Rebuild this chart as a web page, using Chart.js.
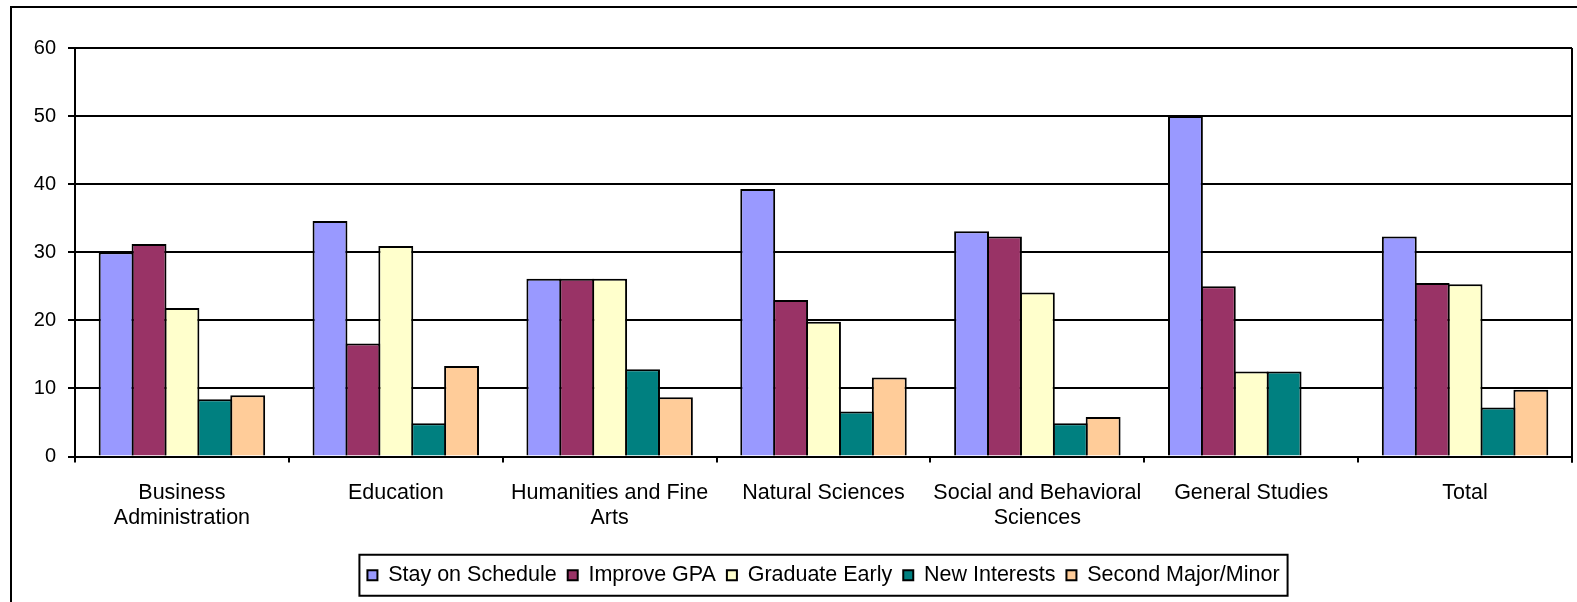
<!DOCTYPE html>
<html>
<head>
<meta charset="utf-8">
<script src="https://cdn.jsdelivr.net/npm/chart.js@4.4.0/dist/chart.umd.min.js"></script>
<style>
  body { margin: 0; background: #fff; }
  canvas { display: block; }
</style>
</head>
<body>
<canvas id="bargraph" width="1577" height="602"></canvas>
<script>
// categories and series
var colleges = [
    ['Business', 'Administration'],
    'Education',
    ['Humanities and Fine', 'Arts'],
    'Natural Sciences',
    ['Social and Behavioral', 'Sciences'],
    'General Studies',
    'Total'
];
var stayOnSchedule = [30.0, 34.6, 26.1, 39.3, 33.1, 50.0, 32.3];
var improveGpa     = [31.2, 16.6, 26.1, 23.0, 32.3, 25.0, 25.5];
var graduateEarly  = [21.8, 30.9, 26.1, 19.8, 24.1, 12.5, 25.3];
var newInterests   = [8.4, 4.9, 12.8, 6.6, 4.9, 12.5, 7.2];
var secondMajor    = [9.0, 13.3, 8.7, 11.6, 5.8, null, 9.8];
var yTicks = [0, 10, 20, 30, 40, 50, 60];

var fontFamily = '"Liberation Sans", Arial, sans-serif';

// bars overlap by their border width so neighbours share one dividing line
function series(label, data, color) {
    return {
        label : label,
        data : data,
        backgroundColor : color,
        borderColor : '#000000',
        borderWidth : 2,
        barPercentage : 1.061,
        categoryPercentage : 0.769
    };
}

var chartdata = {
    labels : colleges,
    datasets : [
        series('Stay on Schedule', stayOnSchedule, '#9999FF'),
        series('Improve GPA', improveGpa, '#993366'),
        series('Graduate Early', graduateEarly, '#FFFFCC'),
        series('New Interests', newInterests, '#008080'),
        series('Second Major/Minor', secondMajor, '#FFCC99')
    ]
};

// frame around the whole chart, the plot area and the legend
var frames = {
    id : 'frames',
    beforeDraw : function(chart) {
        var ctx = chart.ctx;
        ctx.save();
        ctx.fillStyle = '#ffffff';
        ctx.fillRect(0, 0, chart.width, chart.height);
        ctx.strokeStyle = '#000000';
        ctx.lineWidth = 2;
        ctx.beginPath();
        ctx.moveTo(11, chart.height + 2);
        ctx.lineTo(11, 7);
        ctx.lineTo(chart.width + 2, 7);
        ctx.stroke();
        ctx.restore();
    },
    afterDraw : function(chart) {
        var ctx = chart.ctx;
        var area = chart.chartArea;
        ctx.save();
        ctx.strokeStyle = '#000000';
        ctx.lineWidth = 2;
        ctx.beginPath();
        ctx.moveTo(area.right, area.top);
        ctx.lineTo(area.right, area.bottom + 6);
        ctx.stroke();

        var boxes = chart.legend.legendHitBoxes;
        if (boxes && boxes.length) {
            var first = boxes[0];
            var last = boxes[boxes.length - 1];
            var mid = first.top + first.height / 2;
            var left = first.left - 8;
            var right = last.left + last.width + 8;
            ctx.strokeRect(left, mid - 20.5, right - left, 41);
        }
        ctx.restore();
    }
};

var canvas = document.getElementById('bargraph');
var BarGraph = new Chart(canvas, {
    type : 'bar',
    data : chartdata,
    plugins : [frames],
    options : {
        responsive : false,
        animation : false,
        layout : {
            padding : { left : 0, right : 5, top : 48, bottom : 6 }
        },
        plugins : {
            tooltip : { enabled : false },
            legend : {
                position : 'bottom',
                fullSize : false,
                labels : {
                    color : '#000000',
                    font : { family : fontFamily, size : 21.5 },
                    boxWidth : 10,
                    boxHeight : 10,
                    padding : 11
                }
            }
        },
        scales : {
            x : {
                afterFit : function(scale) { scale.height = 97; },
                grid : {
                    offset : true,
                    drawOnChartArea : false,
                    drawTicks : true,
                    tickLength : 6,
                    color : '#000000',
                    lineWidth : 2
                },
                border : { color : '#000000', width : 2 },
                ticks : {
                    color : '#000000',
                    maxRotation : 0,
                    padding : 18,
                    font : { family : fontFamily, size : 21.5, lineHeight : 1.17 }
                }
            },
            y : {
                min : 0,
                max : 60,
                afterFit : function(scale) { scale.width = 75; },
                afterBuildTicks : function(scale) {
                    scale.ticks = yTicks.map(function(v) { return { value : v }; });
                },
                grid : {
                    color : '#000000',
                    lineWidth : 2,
                    tickLength : 7
                },
                border : { color : '#000000', width : 2 },
                ticks : {
                    color : '#000000',
                    padding : 12,
                    font : { family : fontFamily, size : 20 }
                }
            }
        }
    }
});
</script>
</body>
</html>
